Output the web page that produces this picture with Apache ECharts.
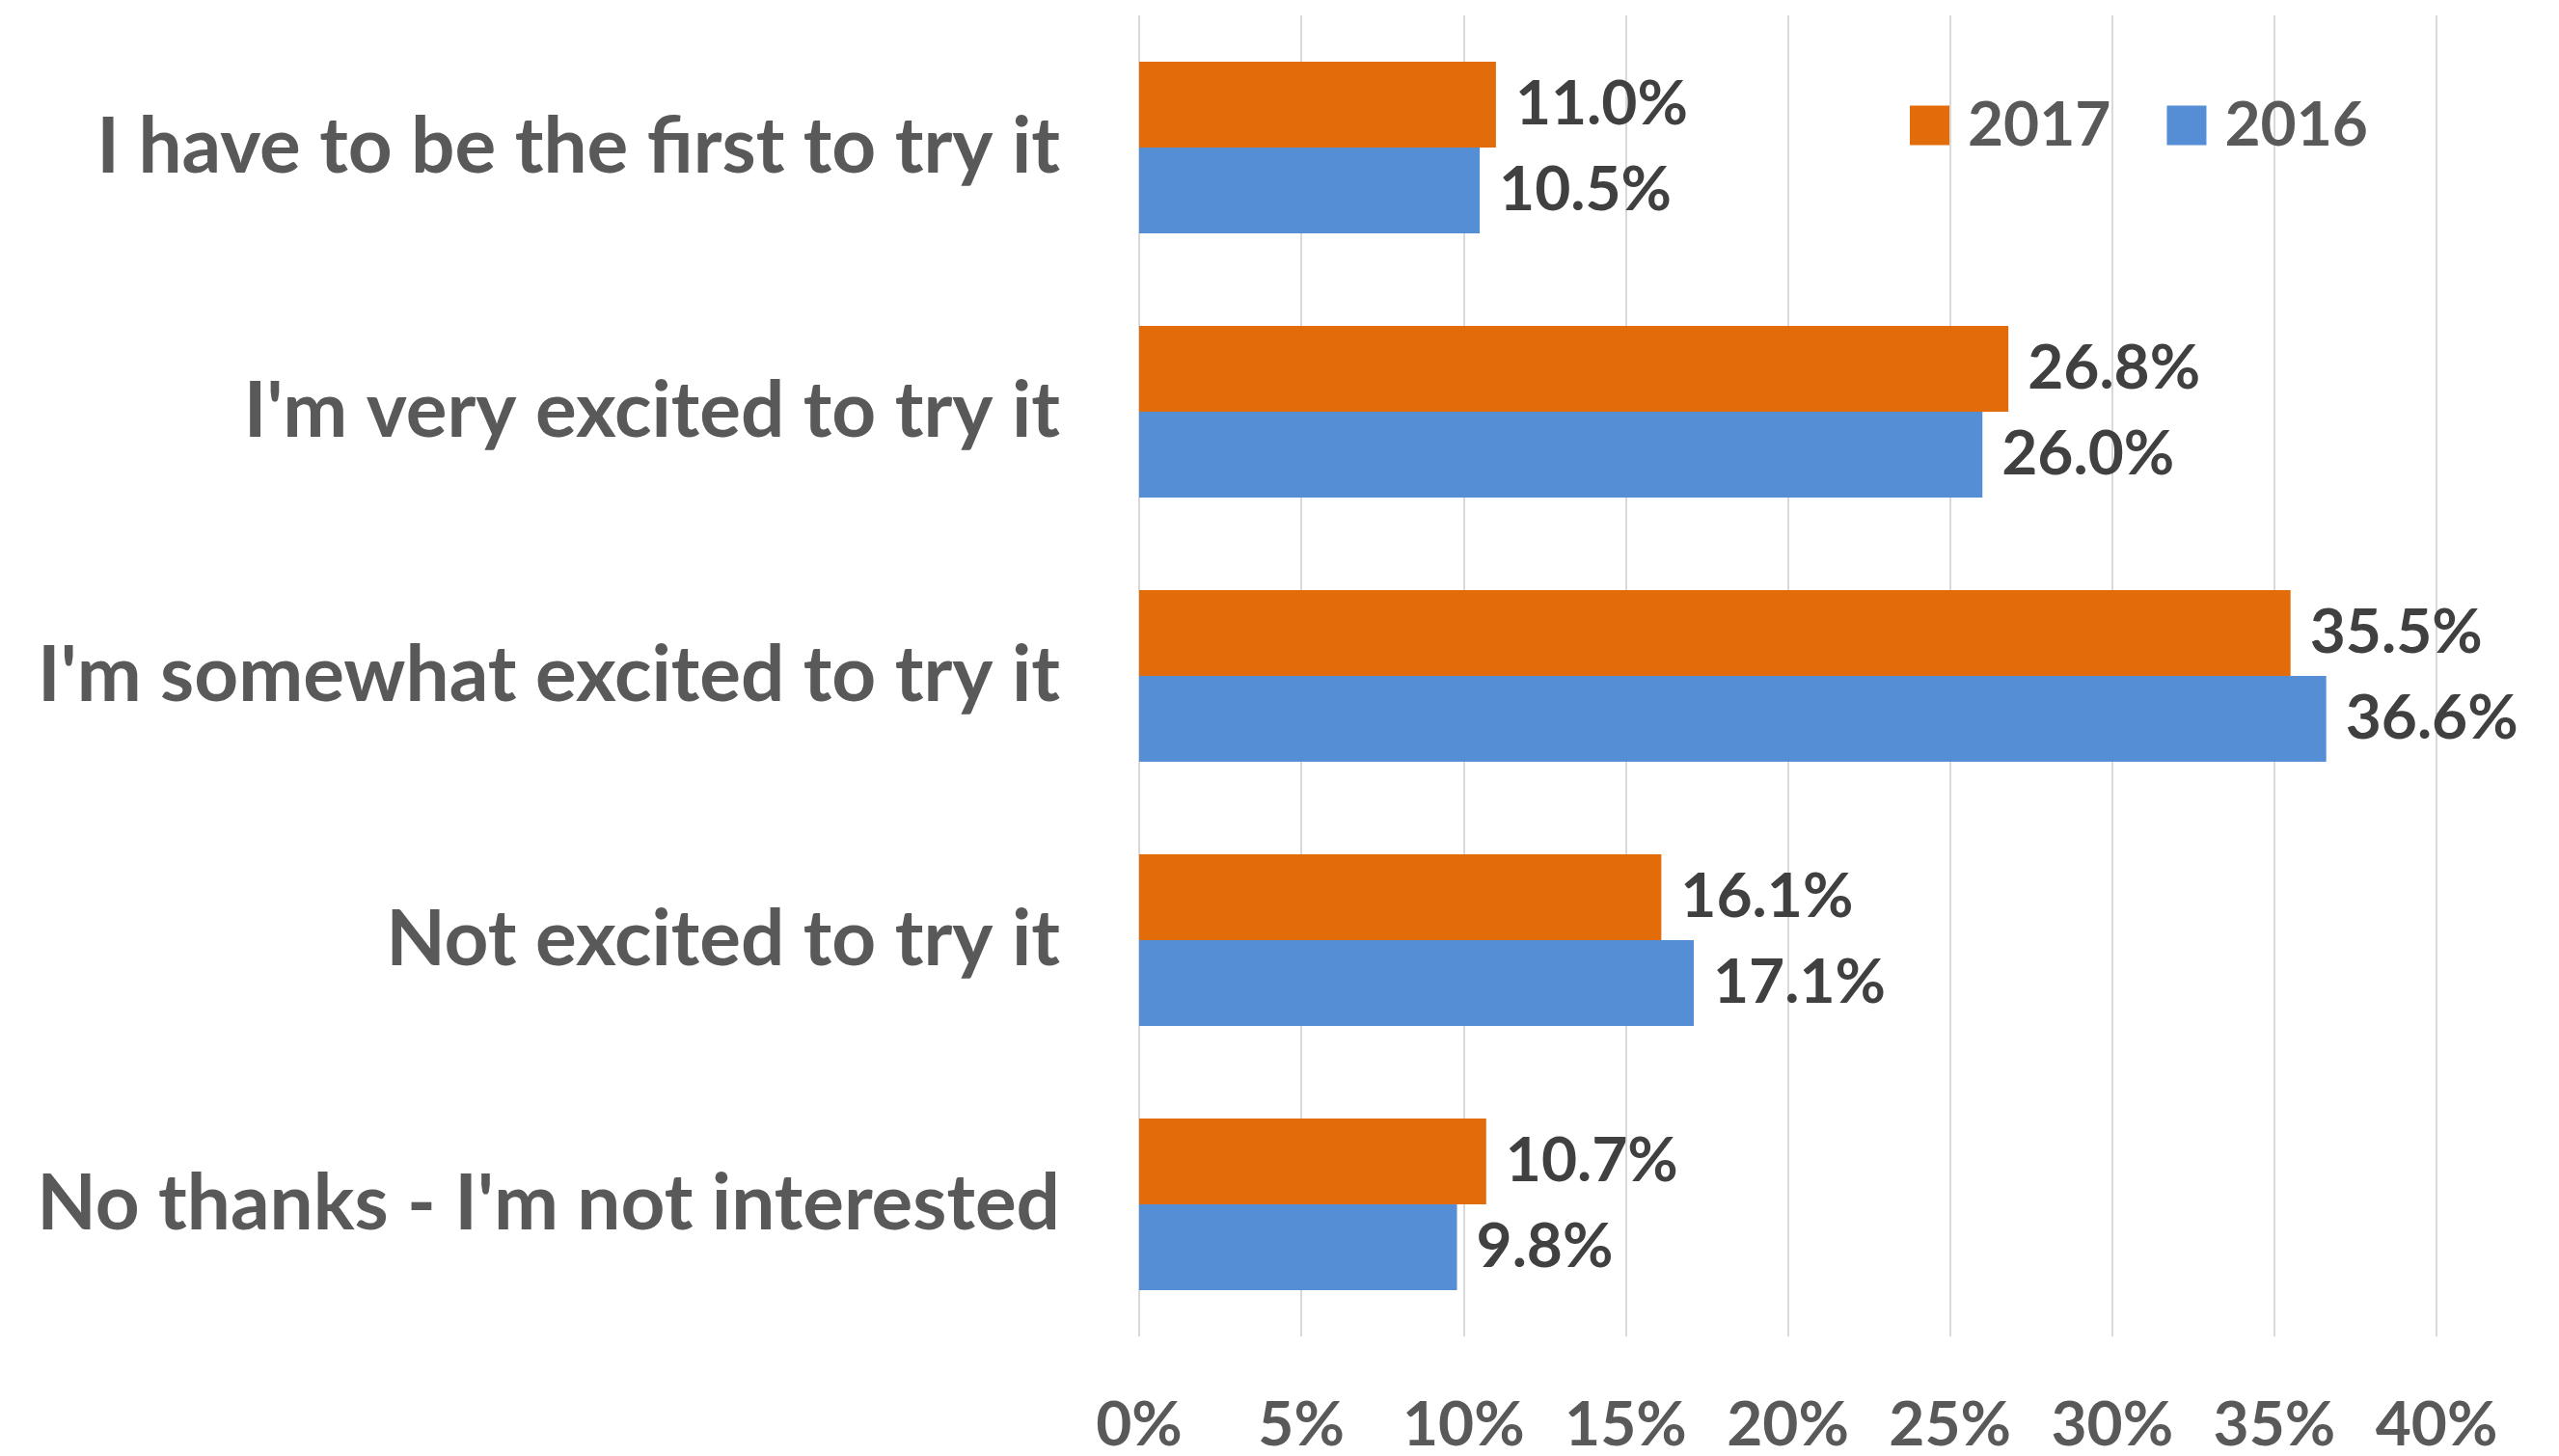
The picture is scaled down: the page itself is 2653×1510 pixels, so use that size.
<!DOCTYPE html>
<html>
<head>
<meta charset="utf-8">
<script src="https://cdn.jsdelivr.net/npm/echarts@6/dist/echarts.min.js"></script>
<style>
  html, body { margin: 0; padding: 0; background: #fff; }
  #chart { width: 2653px; height: 1510px; }
</style>
</head>
<body>
<div id="chart"></div>
<script>
// Survey answers, top to bottom
const categories = [
  'I have to be the first to try it',
  "I'm very excited to try it",
  "I'm somewhat excited to try it",
  'Not excited to try it',
  "No thanks - I'm not interested"
];
const seriesNames = ['2017', '2016'];
const values2017 = [11.0, 26.8, 35.5, 16.1, 10.7];
const values2016 = [10.5, 26.0, 36.6, 17.1, 9.8];
const xTicks = [0, 5, 10, 15, 20, 25, 30, 35, 40];

const FONT = 'Lato, "Noto Sans", sans-serif';
const COLORS = ['#E36C0A', '#558ED5'];

const labelStyle = {
  show: true,
  position: 'right',
  distance: 20,
  fontFamily: FONT,
  fontWeight: 'bold',
  fontSize: 64,
  color: '#404040',
  formatter: p => p.value.toFixed(1) + '%'
};

const chart = echarts.init(document.getElementById('chart'), null, { renderer: 'canvas' });
chart.setOption({
  animation: false,
  backgroundColor: '#ffffff',
  grid: { left: 1181, right: 127, top: 16, bottom: 123, containLabel: false },
  legend: {
    data: seriesNames,
    left: 1975,
    top: 93,
    itemWidth: 41,
    itemHeight: 41,
    itemGap: 58,
    icon: 'rect',
    textStyle: {
      fontFamily: FONT, fontWeight: 'bold', fontSize: 64, color: '#595959',
      padding: [0, 0, 0, 14]
    }
  },
  xAxis: {
    type: 'value',
    min: xTicks[0],
    max: xTicks[xTicks.length - 1],
    interval: xTicks[1] - xTicks[0],
    axisLine: { show: false },
    axisTick: { show: false },
    splitLine: { show: true, lineStyle: { color: '#d9d9d9', width: 2 } },
    axisLabel: {
      margin: 60,
      fontFamily: FONT, fontWeight: 'bold', fontSize: 64, color: '#595959',
      formatter: v => v + '%'
    }
  },
  yAxis: {
    type: 'category',
    data: categories,
    inverse: true,
    axisLine: { show: false },
    axisTick: { show: false },
    axisLabel: {
      margin: 82,
      fontFamily: FONT, fontWeight: 'bold', fontSize: 80, color: '#595959'
    }
  },
  series: [
    {
      name: seriesNames[0], type: 'bar', data: values2017,
      itemStyle: { color: COLORS[0] },
      barGap: '0%', barCategoryGap: '35%',
      label: labelStyle
    },
    {
      name: seriesNames[1], type: 'bar', data: values2016,
      itemStyle: { color: COLORS[1] },
      barGap: '0%', barCategoryGap: '35%',
      label: labelStyle
    }
  ]
});
</script>
</body>
</html>
